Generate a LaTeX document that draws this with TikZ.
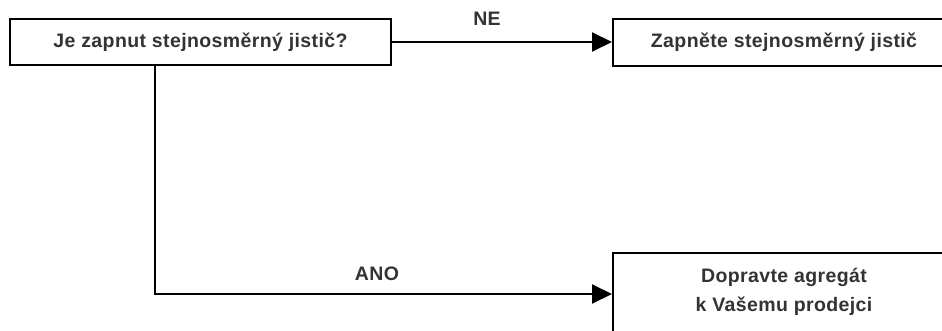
\documentclass[tikz,border=0pt]{standalone}
\usepackage{fontspec}
\setmainfont{Liberation Sans}[LetterSpace=2]
\usetikzlibrary{arrows.meta}
\definecolor{txt}{HTML}{333333}
\tikzset{
  boxnode/.style={draw=black, line width=2pt, rectangle, inner sep=0pt,
    font=\fontsize{19.5}{29}\selectfont\bfseries, text=txt, align=center},
  arr/.style={draw=black, line width=2pt, -{Triangle[length=20pt,width=19pt]}},
  lbl/.style={font=\fontsize{19.5}{23}\selectfont\bfseries, text=txt, inner sep=0pt}
}
\begin{document}
\begin{tikzpicture}[x=1pt,y=-1pt]
\useasboundingbox (0,0) rectangle (942,331);
\clip (0,0) rectangle (942,331);
\fill[white] (0,0) rectangle (942,331);
\node[boxnode, minimum width=381pt, minimum height=46pt] (b1) at (200.5,42) {Je zapnut stejnosměrný jistič?};
\node[boxnode, minimum width=342pt, minimum height=47pt] (b2) at (784,42.5) {Zapněte stejnosměrný jistič};
\node[boxnode, minimum width=342pt, minimum height=82pt] (b3) at (784,294) {};
\node[lbl, align=center] (t3) at (784,292) {Dopravte agregát\\[6pt]k Vašemu prodejci};
\coordinate (c) at ([xshift=146pt]b1.south west);
\draw[arr] (b1.east) -- (b2.west |- b1.east);
\draw[arr] (c) |- (b3.west);
\node[lbl] (ne) at (487,19) {NE};
\node[lbl] (ano) at (377,274) {ANO};
\end{tikzpicture}
\end{document}
